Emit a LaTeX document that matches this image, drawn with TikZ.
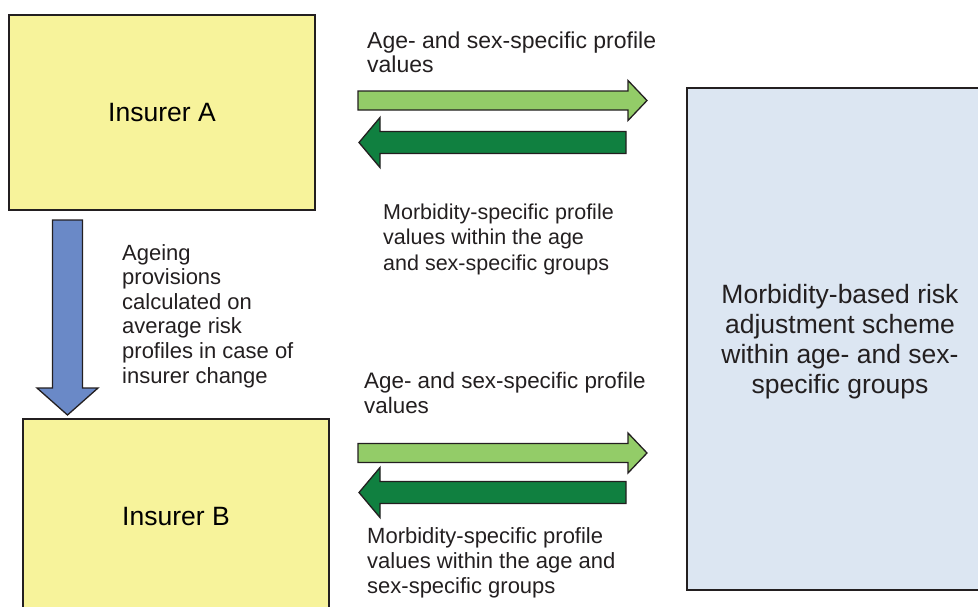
\documentclass[tikz,border=0pt]{standalone}
\usepackage{fontspec}
\setmainfont{Liberation Sans}
\usetikzlibrary{positioning}
\definecolor{edge}{RGB}{35,31,32}
\definecolor{boxyellow}{RGB}{247,243,155}
\definecolor{boxblue}{RGB}{220,230,242}
\definecolor{lightgreen}{RGB}{147,204,104}
\definecolor{darkgreen}{RGB}{16,128,64}
\definecolor{ageblue}{RGB}{106,137,199}

\begin{document}
\begin{tikzpicture}[x=1pt,y=-1pt,
    box/.style={draw=edge, line width=1.3pt, inner sep=0pt, align=center,
      font=\fontsize{26.5}{30}\selectfont},
    lbl/.style={inner sep=0pt, align=left, anchor=north west, text=edge,
      font=\fontsize{22}{25}\selectfont},
    arrowline/.style={draw=edge, line width=1.3pt, line join=miter}]
  \useasboundingbox (0,0) rectangle (978,606);
  \clip (0,0) rectangle (978,606);
  % boxes
  \node[box, fill=boxyellow, minimum width=306pt, minimum height=195pt] (insA) at (162,112.5) {Insurer A};
  \node[box, fill=boxyellow, minimum width=306pt, minimum height=196pt] (insB) at (176,517) {Insurer B};
  \node[box, fill=boxblue, minimum width=306pt, minimum height=502pt] (scheme) at (840,339) {};
  \node[box, draw=none, text=edge] (schemelbl) at ([yshift=-3pt]scheme.center)
    {Morbidity-based risk\\adjustment scheme\\within age- and sex-\\specific groups};
  % arrow tails
  \coordinate (upA) at (358,100.5);
  \coordinate (downA) at (626,142.5);
  \coordinate (upB) at (358,453);
  \coordinate (downB) at (626,492.5);
  \coordinate (ageing) at (67.5,220);
  % arrows
  \foreach \t in {upA,upB}
    \draw[arrowline, fill=lightgreen] (\t) ++(0,-9.5) -- ++(270,0) -- ++(0,-10.5)
      -- ++(19,20) -- ++(-19,20) -- ++(0,-10.5) -- ++(-270,0) -- cycle;
  \foreach \t in {downA,downB}
    \draw[arrowline, fill=darkgreen] (\t) ++(0,-11) -- ++(-246,0) -- ++(0,-14)
      -- ++(-21,25) -- ++(21,25) -- ++(0,-14) -- ++(246,0) -- cycle;
  \draw[arrowline, fill=ageblue] (ageing) ++(-15,0) -- ++(0,168) -- ++(-15.5,0)
    -- ++(30.5,27) -- ++(30.5,-27) -- ++(-15.5,0) -- ++(0,-168) -- cycle;
  % labels
  \node[lbl, font=\fontsize{23}{24}\selectfont] (upAlbl) at (367,31.5) {Age- and sex-specific profile\\values};
  \node[lbl, font=\fontsize{21.5}{25.5}\selectfont] (downAlbl) at (383,203.5) {Morbidity-specific profile\\values within the age\\and sex-specific groups};
  \node[lbl, font=\fontsize{22}{24.6}\selectfont] (ageinglbl) at (122,244) {Ageing\\provisions\\calculated on\\average risk\\profiles in case of\\insurer change};
  \node[lbl, font=\fontsize{22.4}{25}\selectfont] (upBlbl) at (364,372) {Age- and sex-specific profile\\values};
  \node[lbl] (downBlbl) at (367,527) {Morbidity-specific profile\\values within the age and\\sex-specific groups};
\end{tikzpicture}
\end{document}
